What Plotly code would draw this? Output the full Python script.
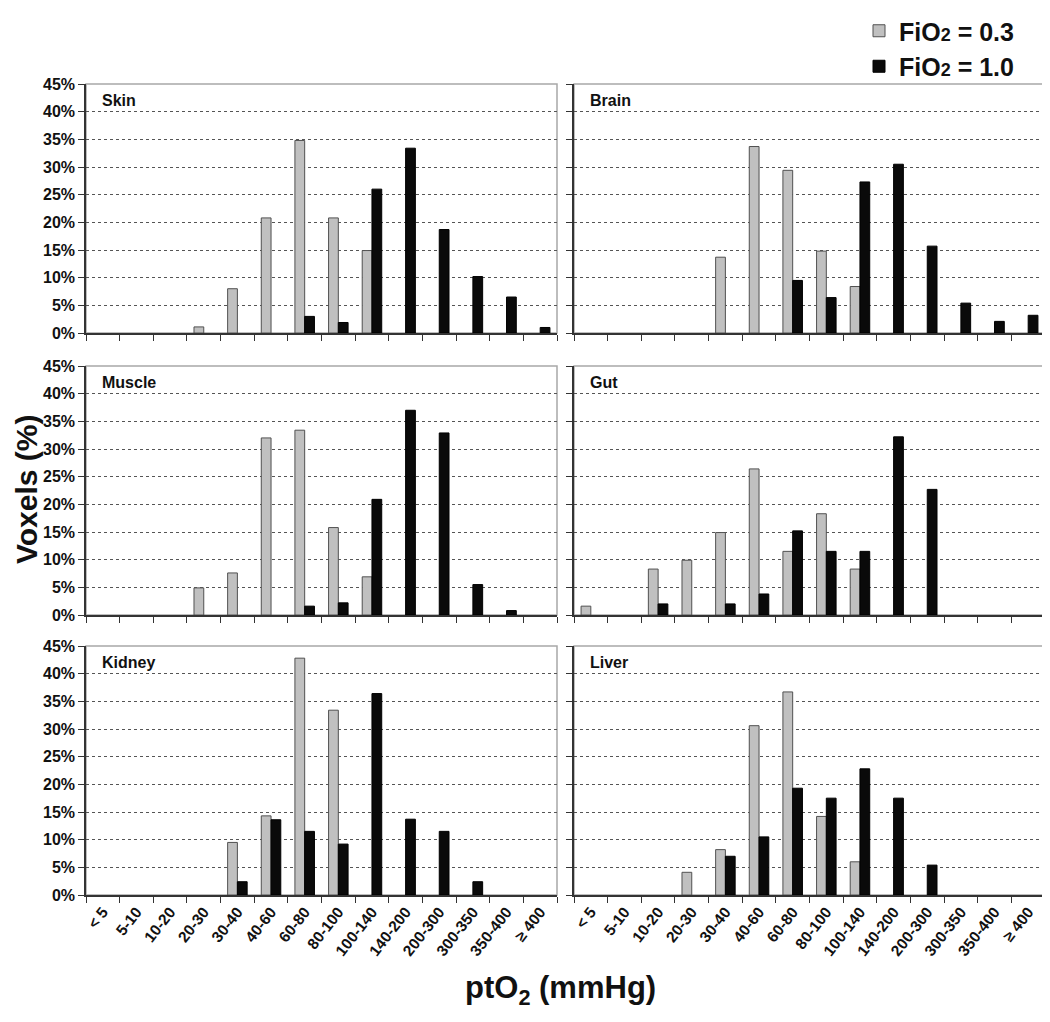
import plotly.graph_objects as go

categories = ["< 5", "5-10", "10-20", "20-30", "30-40", "40-60", "60-80", "80-100",
              "100-140", "140-200", "200-300", "300-350", "350-400", "≥ 400"]

organs = ["Skin", "Brain", "Muscle", "Gut", "Kidney", "Liver"]

skin_03 = [0, 0, 0, 1.1, 8.0, 20.8, 34.8, 20.8, 14.9, 0, 0, 0, 0, 0]
skin_10 = [0, 0, 0, 0, 0, 0, 3.0, 1.9, 26.0, 33.4, 18.7, 10.2, 6.5, 1.0]
brain_03 = [0, 0, 0, 0, 13.7, 33.7, 29.4, 14.8, 8.4, 0, 0, 0, 0, 0]
brain_10 = [0, 0, 0, 0, 0, 0, 9.5, 6.4, 27.3, 30.5, 15.7, 5.4, 2.1, 3.2]
muscle_03 = [0, 0, 0, 4.9, 7.6, 32.0, 33.4, 15.8, 6.9, 0, 0, 0, 0, 0]
muscle_10 = [0, 0, 0, 0, 0, 0, 1.6, 2.2, 20.9, 37.0, 32.9, 5.5, 0.8, 0]
gut_03 = [1.6, 0, 8.3, 9.9, 14.9, 26.4, 11.5, 18.3, 8.3, 0, 0, 0, 0, 0]
gut_10 = [0, 0, 2.0, 0, 2.0, 3.8, 15.2, 11.5, 11.5, 32.2, 22.7, 0, 0, 0]
kidney_03 = [0, 0, 0, 0, 9.5, 14.3, 42.8, 33.4, 0, 0, 0, 0, 0, 0]
kidney_10 = [0, 0, 0, 0, 2.4, 13.6, 11.5, 9.2, 36.4, 13.7, 11.5, 2.4, 0, 0]
liver_03 = [0, 0, 0, 4.1, 8.2, 30.6, 36.7, 14.2, 6.0, 0, 0, 0, 0, 0]
liver_10 = [0, 0, 0, 0, 7.0, 10.5, 19.3, 17.5, 22.8, 17.5, 5.4, 0, 0, 0]

series_03 = [skin_03, brain_03, muscle_03, gut_03, kidney_03, liver_03]
series_10 = [skin_10, brain_10, muscle_10, gut_10, kidney_10, liver_10]

y_ticks = [0, 5, 10, 15, 20, 25, 30, 35, 40, 45]
y_tick_labels = ["0%", "5%", "10%", "15%", "20%", "25%", "30%", "35%", "40%", "45%"]

# the page body has an 8px margin: the figure starts at (8, 8)
OFF = 8
W, H = 1050 - OFF, 1022 - OFF
FONT = "Liberation Sans, Arial, sans-serif"

# panel geometry in page pixels
col_x = [(86, 557), (574, 1045)]
row_y = [(84, 333), (366, 615), (646, 895)]

def px_x(v):
    return (v - OFF) / W

def px_y(v):
    return 1 - (v - OFF) / H

fig = go.Figure()
layout = dict(
    width=W, height=H,
    margin=dict(l=0, r=0, t=0, b=0, autoexpand=False),
    paper_bgcolor="white", plot_bgcolor="white",
    barmode="group", bargap=0.42, bargroupgap=0,
    font=dict(family=FONT, color="#111"),
    showlegend=True,
    legend=dict(xref="container", yref="container",
                x=px_x(859), y=px_y(7), xanchor="left", yanchor="top",
                font=dict(family=FONT, size=25, color="#111", weight="bold"),
                bgcolor="rgba(0,0,0,0)", tracegroupgap=0, itemwidth=30),
)
shapes = []
annotations = []

for i, organ in enumerate(organs):
    r, c = divmod(i, 2)
    n = i + 1
    xa = "x" if n == 1 else f"x{n}"
    ya = "y" if n == 1 else f"y{n}"
    g = [v if v > 0 else None for v in series_03[i]]
    b = [v if v > 0 else None for v in series_10[i]]
    fig.add_trace(go.Bar(x=categories, y=g, xaxis=xa, yaxis=ya,
                         name="FiO<span style='font-size:18px'>2</span> = 0.3",
                         marker=dict(color="#c0c0c0", line=dict(color="#505050", width=1)),
                         showlegend=(i == 0), legendgroup="a", offsetgroup="a"))
    fig.add_trace(go.Bar(x=categories, y=b, xaxis=xa, yaxis=ya,
                         name="FiO<span style='font-size:18px'>2</span> = 1.0",
                         marker=dict(color="#0a0a0a", line=dict(color="#000", width=1)),
                         showlegend=(i == 0), legendgroup="b", offsetgroup="b"))
    x0, x1 = col_x[c]
    y0, y1 = row_y[r]
    xkey = "xaxis" if n == 1 else f"xaxis{n}"
    ykey = "yaxis" if n == 1 else f"yaxis{n}"
    layout[xkey] = dict(
        domain=[px_x(x0), px_x(x1)], anchor=ya, automargin=False,
        type="category", categoryorder="array", categoryarray=categories,
        range=[-0.5, len(categories) - 0.5],
        showline=True, linecolor="#333", linewidth=1.5,
        ticks="outside", tickson="boundaries", ticklen=6, tickcolor="#333", tickwidth=1.2,
        showgrid=False, showticklabels=(r == 2), tickangle=-52,
        tickfont=dict(family=FONT, size=15.5, color="#111", weight="bold"),
        fixedrange=True,
    )
    layout[ykey] = dict(
        domain=[px_y(y1), px_y(y0)], anchor=xa, automargin=False,
        range=[0, 45], tickmode="array", tickvals=y_ticks, ticktext=y_tick_labels,
        showline=True, linecolor="#333", linewidth=1.5,
        ticks="outside", ticklen=6, tickcolor="#333", tickwidth=1.2,
        showgrid=True, gridcolor="#555", griddash="dot", gridwidth=1,
        zeroline=False, showticklabels=(c == 0),
        tickfont=dict(family=FONT, size=16, color="#111", weight="bold"),
        fixedrange=True,
    )
    shapes.append(dict(type="rect", xref="paper", yref="paper",
                       x0=px_x(x0), x1=px_x(x1), y0=px_y(y1), y1=px_y(y0),
                       line=dict(color="#a8a8a8", width=1.5), layer="below"))
    annotations.append(dict(text=organ, xref="paper", yref="paper",
                            x=px_x(x0 + 14), y=px_y(y0 + 16), xanchor="left", yanchor="middle",
                            showarrow=False,
                            font=dict(family=FONT, size=16, color="#111", weight="bold")))

annotations.append(dict(text="Voxels (%)", xref="paper", yref="paper",
                        x=px_x(26), y=px_y(489), xanchor="center", yanchor="middle",
                        textangle=-90, showarrow=False,
                        font=dict(family=FONT, size=30, color="#111", weight="bold")))
annotations.append(dict(text="ptO<sub>2</sub> (mmHg)", xref="paper", yref="paper",
                        x=px_x(560), y=px_y(990), xanchor="center", yanchor="middle",
                        showarrow=False,
                        font=dict(family=FONT, size=31, color="#111", weight="bold")))

layout["shapes"] = shapes
layout["annotations"] = annotations
fig.update_layout(**layout)
fig.write_html("out.html")
